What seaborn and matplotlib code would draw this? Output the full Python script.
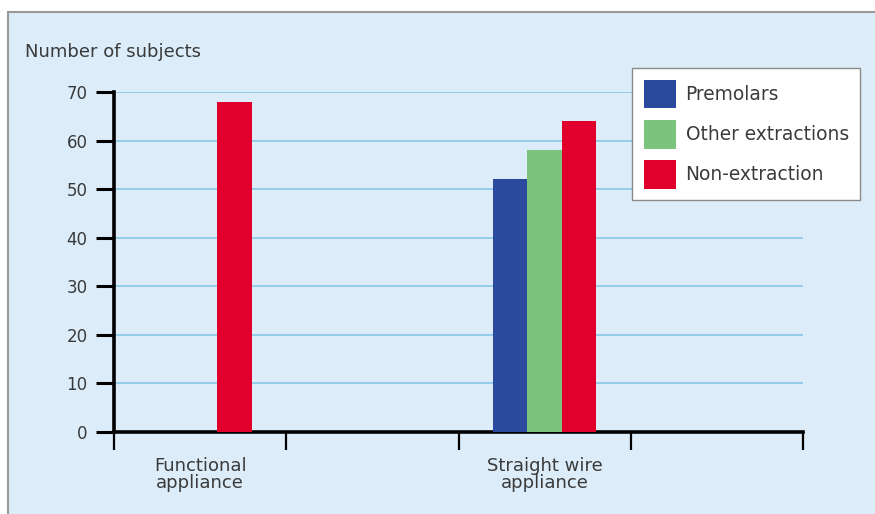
import pandas as pd
import matplotlib.pyplot as plt
import matplotlib.patches as mpatches
import seaborn as sns

# data
appliance = ["Functional\nappliance", "Straight wire\nappliance", "Straight wire\nappliance", "Straight wire\nappliance"]
group = ["Non-extraction", "Premolars", "Other extractions", "Non-extraction"]
subjects = [68, 52, 58, 64]

slots = ["Functional\nappliance", " ", "Straight wire\nappliance", "  "]
groups = ["Premolars", "Other extractions", "Non-extraction"]
colors = ["#2b4a9e", "#7cc47e", "#e0002b"]
yticks = [0, 10, 20, 30, 40, 50, 60, 70]

df = pd.DataFrame({"appliance": appliance, "group": group, "subjects": subjects})

sns.set_style("white")
plt.rcParams["font.family"] = ["DejaVu Sans"]
text_col = "#3a3a3a"

fig = plt.figure(figsize=(8.75, 5.14), dpi=100)
fig.patch.set_facecolor("white")
# light blue panel with grey top/left border
fig.patches.append(mpatches.Rectangle((8 / 875, -0.01), 1.0, 1 - 12 / 514 + 0.01,
                                      transform=fig.transFigure, facecolor="#dcedf9",
                                      edgecolor="#9a9a9a", linewidth=1.5, zorder=-10))

ax = fig.add_axes([114 / 875, (514 - 432) / 514, (803 - 114) / 875, (432 - 92) / 514])
ax.set_facecolor("none")

sns.barplot(data=df, x="appliance", y="subjects", hue="group", order=slots,
            hue_order=groups, palette=colors, saturation=1, width=0.6,
            linewidth=0, ax=ax, zorder=3)

ax.set_ylim(0, 70)
ax.set_xlim(-0.5, 3.5)
ax.set_yticks(yticks)
ax.set_yticklabels([str(v) for v in yticks], fontsize=12, color=text_col)
ax.yaxis.grid(True, color="#8ccae8", linewidth=1.3, zorder=1)
ax.set_axisbelow(True)

ax.set_xticks([-0.5, 0.5, 1.5, 2.5, 3.5])
ax.set_xticklabels([])
ax.set_xticks([0, 2], minor=True)
ax.set_xticklabels([slots[0], slots[2]], minor=True, fontsize=13, color=text_col,
                   linespacing=0.95)
ax.tick_params(axis="x", which="major", direction="out", length=13, width=1.6,
               color="black", bottom=True)
ax.tick_params(axis="x", which="minor", length=0, pad=18)
ax.tick_params(axis="y", direction="out", length=13, width=2.2, color="black",
               pad=6, left=True)

for s in ["top", "right"]:
    ax.spines[s].set_visible(False)
for s in ["left", "bottom"]:
    ax.spines[s].set_color("black")
    ax.spines[s].set_linewidth(2.6)

ax.set_xlabel("")
ax.set_ylabel("")
fig.text(25 / 875, 1 - 52 / 514, "Number of subjects", fontsize=13, color=text_col,
         va="center", ha="left")

handles, labels = ax.get_legend_handles_labels()
ax.legend(handles, labels, loc="upper left", bbox_to_anchor=(632 / 875, 1 - 68 / 514),
          bbox_transform=fig.transFigure, fontsize=13.4, frameon=True, fancybox=False,
          edgecolor="#8a8a8a", facecolor="white", framealpha=1,
          handlelength=1.72, handleheight=2.0, labelspacing=0.62, borderpad=0.62,
          handletextpad=0.54, borderaxespad=0)
for t in ax.get_legend().get_texts():
    t.set_color(text_col)

fig.savefig("out.png", dpi=100)
